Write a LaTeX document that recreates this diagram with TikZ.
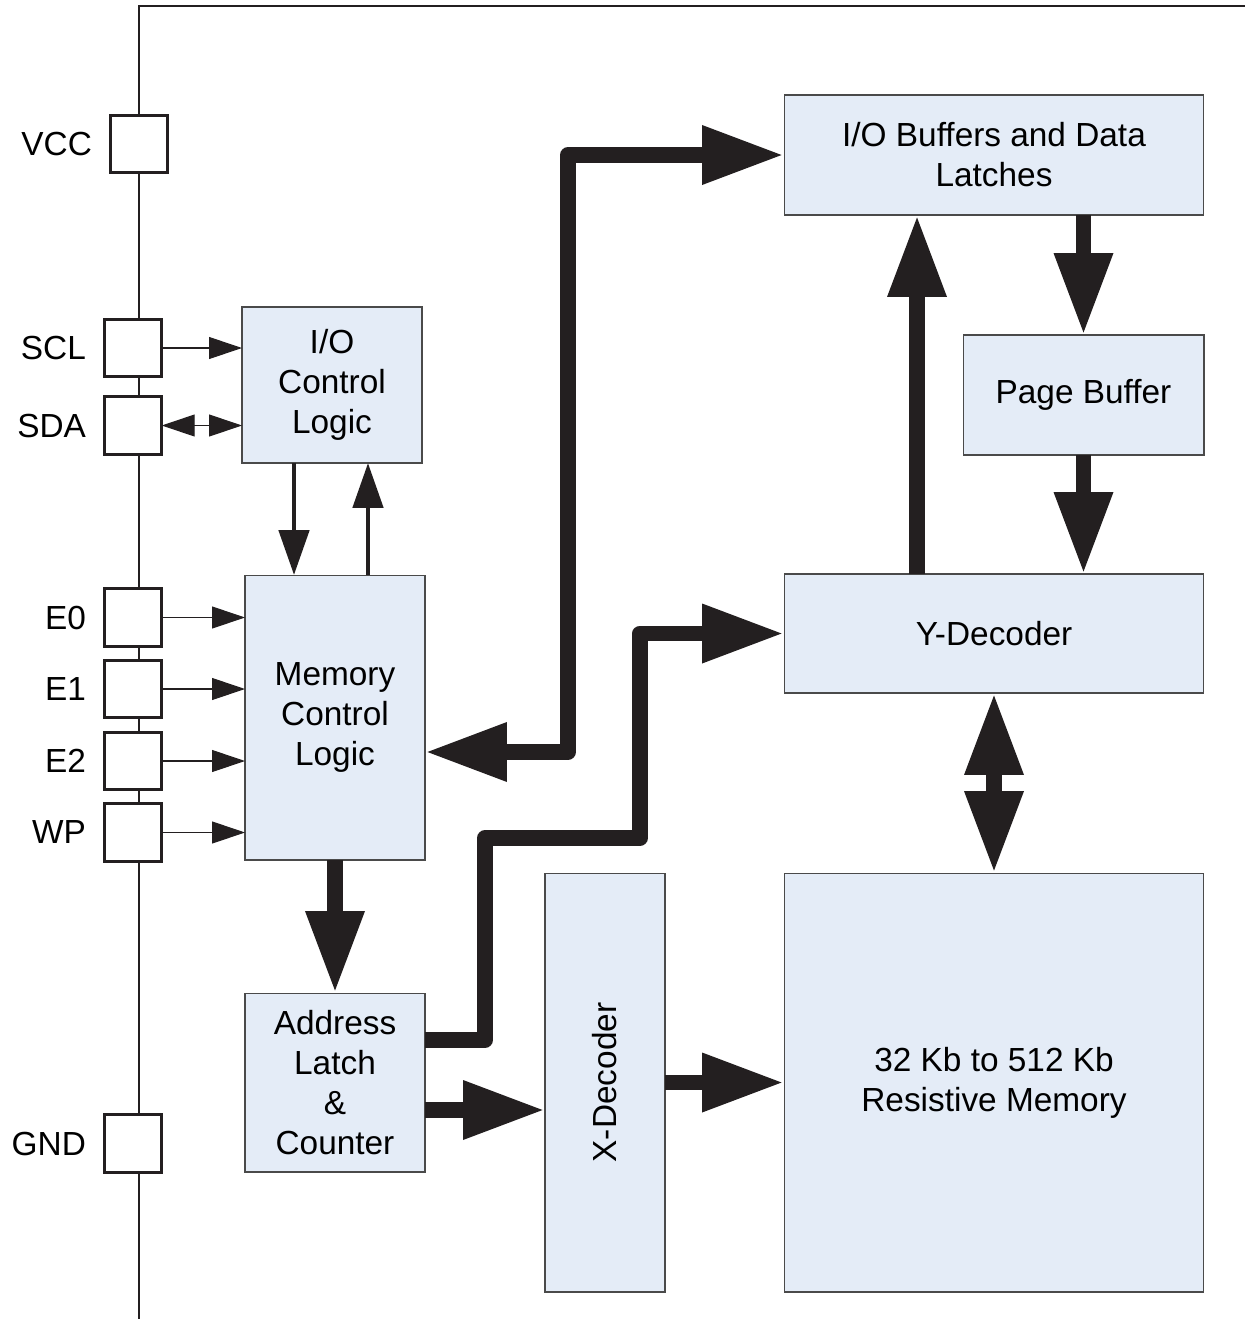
\documentclass[tikz,border=0pt]{standalone}
\usepackage{fontspec}
\setmainfont{Liberation Sans}
\usetikzlibrary{arrows.meta}

\definecolor{blockfill}{HTML}{E4ECF7}
\definecolor{blockline}{HTML}{4A4A4A}
\definecolor{ink}{HTML}{231F20}

\begin{document}
\begin{tikzpicture}[
    x=0.02cm, y=-0.02cm,
    font=\fontsize{19}{22.8}\selectfont,
    block/.style={draw=blockline, line width=0.6pt, fill=blockfill, align=center, inner sep=0pt, outer sep=0pt},
    pin/.style={draw=ink, line width=1.7pt, fill=white, minimum size=1.15cm, inner sep=0pt, outer sep=0pt},
    pinlabel/.style={anchor=east, inner sep=0pt, xshift=-0.36cm},
    thin/.style={draw=ink, line width=0.6pt, -{Triangle[length=0.66cm, width=0.44cm]}},
    mid/.style={draw=ink, line width=2.8pt, -{Triangle[length=0.9cm, width=0.6cm]}},
    bus/.style={draw=ink, line width=9pt, line join=round, -{Triangle[length=1.64cm, width=1.1cm]}}
]
    \useasboundingbox (0,0) rectangle (1245,1319);

    % --- Package outline ---
    \draw[ink, line width=1.7pt] (139,1319) -- (139,6) -- (1245,6);

    % --- Pins ---
    \node[pin] (vcc) at (139,144) {};
    \node[pin] (scl) at (133,348) {};
    \node[pin] (sda) at (133,425.5) {};
    \node[pin] (e0)  at (133,617.5) {};
    \node[pin] (e1)  at (133,689) {};
    \node[pin] (e2)  at (133,761) {};
    \node[pin] (wp)  at (133,832.5) {};
    \node[pin] (gnd) at (133,1143.5) {};

    \node[pinlabel] at (vcc.west) {VCC};
    \node[pinlabel] at (scl.west) {SCL};
    \node[pinlabel] at (sda.west) {SDA};
    \node[pinlabel] at (e0.west) {E0};
    \node[pinlabel] at (e1.west) {E1};
    \node[pinlabel] at (e2.west) {E2};
    \node[pinlabel] at (wp.west) {WP};
    \node[pinlabel] at (gnd.west) {GND};

    % --- Blocks ---
    \node[block, minimum width=3.6cm, minimum height=3.12cm] (iocl) at (332,385) {I/O\\Control\\Logic};
    \node[block, minimum width=3.6cm, minimum height=5.7cm] (mcl) at (335,717.5) {Memory\\Control\\Logic};
    \node[block, minimum width=3.6cm, minimum height=3.58cm] (addr) at (335,1082.5) {Address\\Latch\\\&\\Counter};
    \node[block, minimum width=2.4cm, minimum height=8.38cm] (xdec) at (605,1082.5) {};
    \node[rotate=90] at (xdec) {X-Decoder};
    \node[block, minimum width=8.4cm, minimum height=8.38cm] (mem) at (994,1082.5) {32 Kb to 512 Kb\\Resistive Memory};
    \node[block, minimum width=8.4cm, minimum height=2.38cm] (ydec) at (994,633.5) {Y-Decoder};
    \node[block, minimum width=4.82cm, minimum height=2.4cm] (pbuf) at (1083.5,395) {Page Buffer};
    \node[block, minimum width=8.4cm, minimum height=2.4cm] (iobuf) at (994,155) {I/O Buffers and Data\\Latches};

    % --- Pin signals ---
    \draw[thin] (scl.east) -- (scl.east -| iocl.west);
    \draw[thin, {Triangle[length=0.66cm, width=0.44cm]}-{Triangle[length=0.66cm, width=0.44cm]}] (sda.east) -- (sda.east -| iocl.west);
    \draw[thin] (e0.east) -- (e0.east -| mcl.west);
    \draw[thin] (e1.east) -- (e1.east -| mcl.west);
    \draw[thin] (e2.east) -- (e2.east -| mcl.west);
    \draw[thin] (wp.east) -- (wp.east -| mcl.west);

    % --- Control handshake ---
    \draw[mid] ([xshift=-0.76cm]iocl.south) -- ([xshift=-0.76cm]iocl.south |- mcl.north);
    \draw[mid] ([xshift=0.66cm]mcl.north) -- ([xshift=0.66cm]mcl.north |- iocl.south);

    % --- Data and address buses ---
    \draw[bus, {Triangle[length=1.64cm, width=1.1cm]}-{Triangle[length=1.64cm, width=1.1cm]}]
        ([yshift=-0.69cm]mcl.east) -| (568,155) -- (iobuf.west);
    \draw[bus] ([yshift=0.85cm]addr.east) -| (485,838) -| (640,633.5) -- (ydec.west);
    \draw[bus] (mcl.south) -- (addr.north);
    \draw[bus] ([yshift=-0.55cm]addr.east) -- ([yshift=-0.55cm]addr.east -| xdec.west);
    \draw[bus] (xdec.east) -- (mem.west);
    \draw[bus] ([xshift=-1.54cm]ydec.north) -- ([xshift=-1.54cm]ydec.north |- iobuf.south);
    \draw[bus] (pbuf.north |- iobuf.south) -- (pbuf.north);
    \draw[bus] (pbuf.south) -- (pbuf.south |- ydec.north);
    \draw[bus, {Triangle[length=1.64cm, width=1.1cm]}-{Triangle[length=1.64cm, width=1.1cm]}] (ydec.south) -- (mem.north);

\end{tikzpicture}
\end{document}
